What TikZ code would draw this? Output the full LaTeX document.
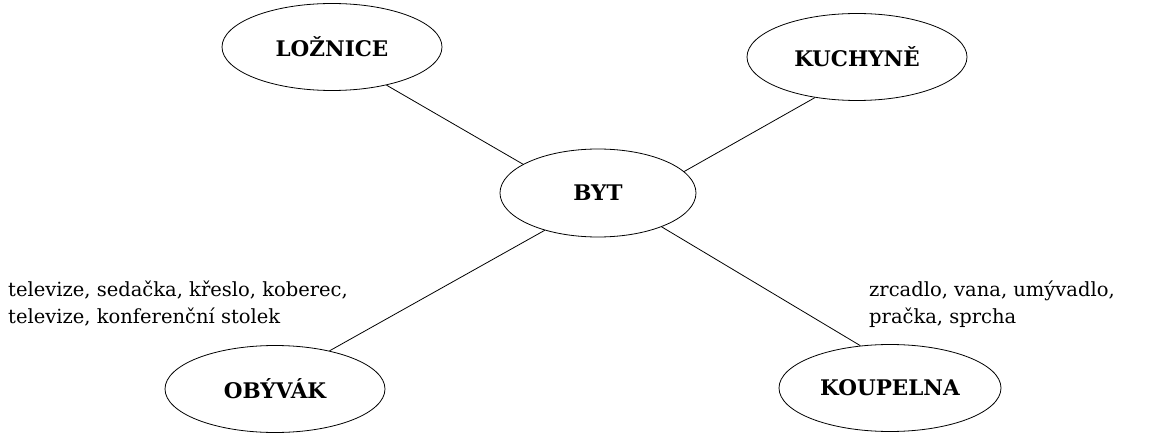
\documentclass[tikz,border=0pt]{standalone}
\usepackage{fontspec}
\setmainfont{DejaVu Serif}
\usetikzlibrary{shapes.geometric}
\begin{document}
\begin{tikzpicture}[x=1pt,y=-1pt,
  room/.style={draw, line width=0.8pt, ellipse, minimum width=220pt, minimum height=87pt, inner sep=0pt, font=\bfseries\fontsize{21.5}{24}\selectfont},
  link/.style={draw, line width=0.8pt},
  items/.style={anchor=base west, align=left, inner sep=0pt, font=\fontsize{19.5}{26.5}\selectfont}]
\useasboundingbox (0,0) rectangle (1152,433);
\node[room] (lo) at (332,47) {LOŽNICE};
\node[room] (ku) at (857,57) {KUCHYNĚ};
\node[room, minimum width=196pt, minimum height=88pt] (byt) at (598,193) {BYT};
\node[room] (ob) at (275,389) {OBÝVÁK};
\node[room, minimum width=222pt] (ko) at (890,388) {KOUPELNA};
\node[items] (t1) at (8,323) {televize, sedačka, křeslo, koberec,\\televize, konferenční stolek};
\node[items] (t2) at (869,323) {zrcadlo, vana, umývadlo,\\pračka, sprcha};
\draw[link] (lo.-35) -- (byt.159);
\draw[link] (ku.224) -- (byt.14);
\draw[link] (byt.-145) -- (ob.35);
\draw[link] (byt.-28) -- (ko.125);
\end{tikzpicture}
\end{document}
